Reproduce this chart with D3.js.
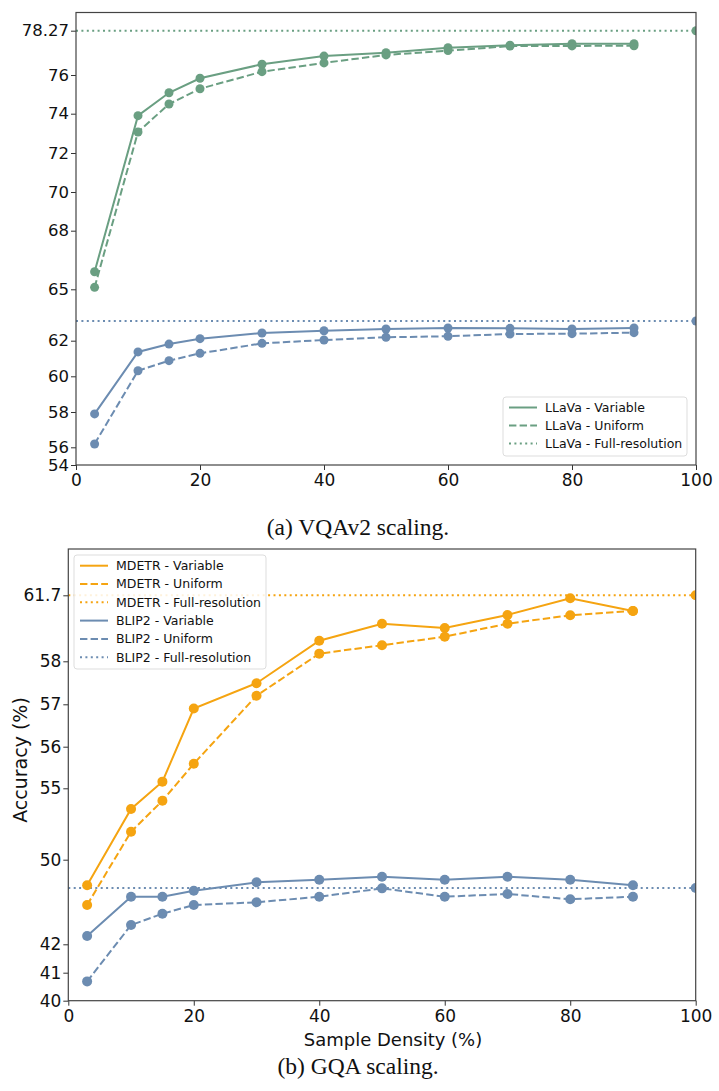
<!DOCTYPE html>
<html><head><meta charset="utf-8">
<script src="https://cdn.jsdelivr.net/npm/d3@7"></script>
<style>body{margin:0;background:#fff}svg{display:block}</style>
</head><body>
<svg id="chart" width="719" height="1091"></svg>
<script>
// ---------- DATA ----------
const densities = [3, 10, 15, 20, 30, 40, 50, 60, 70, 80, 90];
const fullResX = 100;
const xTicks = [0, 20, 40, 60, 80, 100];

// (a) VQAv2
const vqaYTicks = [54, 56, 58, 60, 62, 65, 68, 70, 72, 74, 76, 78.27];
const llavaVariable = [65.9, 73.9, 75.08, 75.83, 76.55, 76.97, 77.14, 77.4, 77.53, 77.6, 77.6];
const llavaUniform  = [65.1, 73.07, 74.5, 75.29, 76.17, 76.62, 77.03, 77.25, 77.48, 77.49, 77.5];
const llavaFull = 78.27;
const blipVqaVariable = [57.89, 61.37, 61.81, 62.12, 62.45, 62.58, 62.68, 62.74, 62.72, 62.68, 62.74];
const blipVqaUniform  = [56.19, 60.31, 60.88, 61.29, 61.85, 62.04, 62.2, 62.26, 62.39, 62.41, 62.47];
const blipVqaFull = 63.15;

// (b) GQA
const gqaYTicks = [40, 41, 42, 50, 55, 56, 57, 58, 61.7];
const mdetrVariable = [47.58, 53.55, 55.16, 56.9, 57.49, 59.15, 60.11, 59.87, 60.6, 61.53, 60.82];
const mdetrUniform  = [45.72, 51.96, 54.13, 55.59, 57.2, 58.43, 58.9, 59.38, 60.11, 60.58, 60.82];
const mdetrFull = 61.7;
const blipGqaVariable = [42.78, 46.5, 46.5, 47.07, 47.86, 48.11, 48.39, 48.11, 48.39, 48.11, 47.58];
const blipGqaUniform  = [40.69, 43.82, 44.89, 45.72, 45.97, 46.5, 47.29, 46.5, 46.76, 46.26, 46.5];
const blipGqaFull = 47.32;

// ---------- STYLE ----------
const GREEN = "#6a9f82", BLUE = "#6c8cb1", ORANGE = "#f5a411";
const SANS = "DejaVu Sans", SERIF = "Liberation Serif";
const svg = d3.select("#chart");
svg.append("rect").attr("width",719).attr("height",1091).attr("fill","#fff");

function panel(cfg){
  const {id, left, right, top, bottom, yTicks, yPix, series, fulls, legend, legendBox, yTickSize} = cfg;
  const x = d3.scaleLinear().domain([0,100]).range([left,right]);
  const y = d3.scaleLinear().domain(yTicks).range(yPix);
  const g = svg.append("g");
  g.append("clipPath").attr("id",id).append("rect")
    .attr("x",left).attr("y",top).attr("width",right-left).attr("height",bottom-top);
  const plot = g.append("g").attr("clip-path",`url(#${id})`);
  const line = d3.line().x(d=>x(d[0])).y(d=>y(d[1]));

  fulls.forEach(f=>{
    plot.append("line").attr("x1",left).attr("x2",right)
      .attr("y1",y(f.v)).attr("y2",y(f.v))
      .attr("stroke",f.c).attr("stroke-width",2).attr("stroke-dasharray","2,3.4");
    plot.append("circle").attr("cx",x(fullResX)).attr("cy",y(f.v)).attr("r",cfg.r).attr("fill",f.c);
  });
  series.forEach(s=>{
    const pts = densities.map((d,i)=>[d,s.v[i]]);
    plot.append("path").attr("d",line(pts)).attr("fill","none")
      .attr("stroke",s.c).attr("stroke-width",2)
      .attr("stroke-dasharray", s.dash ? "7.4,3.2" : null);
    plot.selectAll(null).data(pts).enter().append("circle")
      .attr("cx",d=>x(d[0])).attr("cy",d=>y(d[1])).attr("r",cfg.r).attr("fill",s.c);
  });

  const xa = g.append("g").attr("transform",`translate(0,${bottom})`)
    .call(d3.axisBottom(x).tickValues(xTicks).tickSize(5).tickSizeOuter(0).tickFormat(d3.format("d")));
  const ya = g.append("g").attr("transform",`translate(${left},0)`)
    .call(d3.axisLeft(y).tickValues(yTicks).tickSize(5).tickSizeOuter(0).tickFormat(d=>String(d)));
  [xa,ya].forEach(a=>{
    a.select(".domain").remove();
    a.selectAll("line").attr("stroke","#333").attr("stroke-width",1);
    a.selectAll("text").attr("font-family",SANS).attr("fill","#111");
  });
  xa.selectAll("text").attr("font-size",17).attr("dy","0.9em").attr("y",6);
  ya.selectAll("text").attr("font-size",yTickSize).attr("x",-7);
  g.append("rect").attr("x",left).attr("y",top).attr("width",right-left).attr("height",bottom-top)
    .attr("fill","none").attr("stroke","#444").attr("stroke-width",1.2);

  const lg = g.append("g");
  lg.append("rect").attr("x",legendBox.x).attr("y",legendBox.y).attr("width",legendBox.w).attr("height",legendBox.h)
    .attr("rx",3).attr("fill","#fff").attr("fill-opacity",0.85).attr("stroke","#ddd").attr("stroke-width",1);
  legend.forEach((l,i)=>{
    const yy = legendBox.y + legendBox.pad + i*legendBox.step;
    lg.append("line").attr("x1",legendBox.x+6).attr("x2",legendBox.x+34).attr("y1",yy).attr("y2",yy)
      .attr("stroke",l.c).attr("stroke-width",2)
      .attr("stroke-dasharray", l.dash==="dash" ? "7.4,3.2" : l.dash==="dot" ? "2,3.4" : null);
    lg.append("text").attr("x",legendBox.x+42).attr("y",yy).attr("dy","0.35em")
      .attr("font-family",SANS).attr("font-size",legendBox.fs).attr("fill","#111").text(l.t);
  });
  return {x,y};
}

panel({
  id:"clipA", left:76, right:696, top:12.5, bottom:465, r:4.5, yTickSize:16.5,
  yTicks: vqaYTicks,
  yPix: [465, 447.3, 412, 376.3, 340.7, 289.3, 230.7, 192, 153, 113.7, 75, 30.7],
  series:[
    {v:llavaVariable, c:GREEN, dash:false},
    {v:llavaUniform, c:GREEN, dash:true},
    {v:blipVqaVariable, c:BLUE, dash:false},
    {v:blipVqaUniform, c:BLUE, dash:true}
  ],
  fulls:[{v:llavaFull,c:GREEN},{v:blipVqaFull,c:BLUE}],
  legend:[
    {t:"LLaVa - Variable", c:GREEN, dash:null},
    {t:"LLaVa - Uniform", c:GREEN, dash:"dash"},
    {t:"LLaVa - Full-resolution", c:GREEN, dash:"dot"}
  ],
  legendBox:{x:503, y:397, w:184, h:59, pad:10.5, step:18, fs:12.5}
});
svg.append("text").attr("x",358).attr("y",535).attr("text-anchor","middle")
  .attr("font-family",SERIF).attr("font-size",23.5).attr("fill","#111").text("(a) VQAv2 scaling.");

panel({
  id:"clipB", left:68.3, right:695.7, top:549, bottom:1000.7, r:5, yTickSize:17,
  yTicks: gqaYTicks,
  yPix: [1000.7, 972.7, 944.3, 859.7, 788.3, 746.7, 704.3, 661.3, 595.3],
  series:[
    {v:mdetrVariable, c:ORANGE, dash:false},
    {v:mdetrUniform, c:ORANGE, dash:true},
    {v:blipGqaVariable, c:BLUE, dash:false},
    {v:blipGqaUniform, c:BLUE, dash:true}
  ],
  fulls:[{v:mdetrFull,c:ORANGE},{v:blipGqaFull,c:BLUE}],
  legend:[
    {t:"MDETR - Variable", c:ORANGE, dash:null},
    {t:"MDETR - Uniform", c:ORANGE, dash:"dash"},
    {t:"MDETR - Full-resolution", c:ORANGE, dash:"dot"},
    {t:"BLIP2 - Variable", c:BLUE, dash:null},
    {t:"BLIP2 - Uniform", c:BLUE, dash:"dash"},
    {t:"BLIP2 - Full-resolution", c:BLUE, dash:"dot"}
  ],
  legendBox:{x:74, y:555, w:192, h:114, pad:10.7, step:18.3, fs:12.5}
});
svg.append("text").attr("x",393).attr("y",1046).attr("text-anchor","middle")
  .attr("font-family",SANS).attr("font-size",18).attr("fill","#111").text("Sample Density (%)");
svg.append("text").attr("transform","translate(27,760) rotate(-90)").attr("text-anchor","middle")
  .attr("font-family",SANS).attr("font-size",19).attr("fill","#111").text("Accuracy (%)");
svg.append("text").attr("x",358).attr("y",1074).attr("text-anchor","middle")
  .attr("font-family",SERIF).attr("font-size",23.5).attr("fill","#111").text("(b) GQA scaling.");
</script>
</body></html>
